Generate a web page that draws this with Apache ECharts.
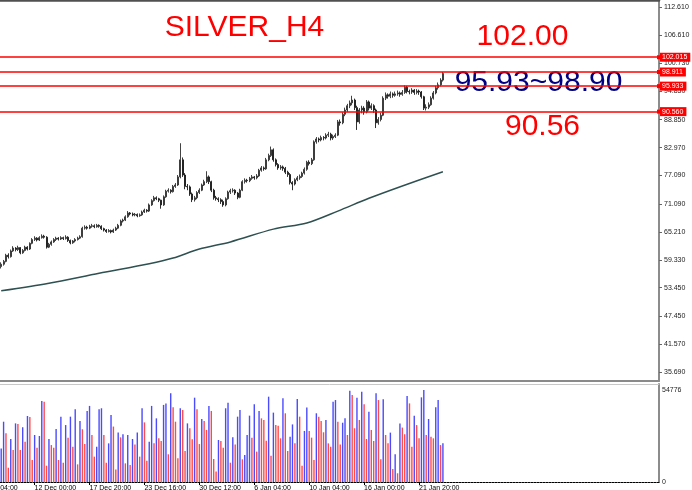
<!DOCTYPE html>
<html>
<head>
<meta charset="utf-8">
<script src="https://cdn.jsdelivr.net/npm/echarts@6/dist/echarts.min.js"></script>
<style>
html,body{margin:0;padding:0;background:#fff;}
#chart{width:692px;height:490px;}
</style>
</head>
<body>
<div id="chart"></div>
<script>
// ---- data ----
const slotCount = 276; // chart width in bar slots (includes the empty shift area on the right)
const categories = Array.from({length: slotCount}, (_, i) => String(i));

const opens = [57.9,58.4,59.0,60.3,60.0,61.2,61.8,61.5,61.9,60.8,
61.3,62.0,61.6,62.8,63.6,63.9,63.5,64.0,64.3,64.1,
62.0,62.6,63.1,63.6,63.9,63.7,64.0,63.8,64.1,63.4,
62.9,63.3,63.6,63.9,64.2,66.0,66.2,66.0,66.4,66.5,
66.3,66.6,66.4,65.9,65.6,65.3,65.5,65.2,65.6,66.0,
66.6,67.5,67.7,68.4,69.2,69.0,68.8,68.9,68.6,68.8,
69.4,69.8,69.6,70.9,71.8,72.4,72.2,71.9,70.9,72.6,
73.8,74.0,73.7,74.8,75.1,76.8,80.4,77.2,74.8,74.7,
73.2,72.0,72.4,73.5,74.0,75.1,75.8,76.8,75.8,74.0,
72.4,72.2,72.0,71.6,70.9,72.2,73.6,73.9,74.0,73.4,
72.5,74.0,75.8,76.1,76.0,76.5,76.8,76.6,77.0,78.2,
78.7,78.5,80.4,81.3,82.5,80.4,79.4,78.7,78.9,78.6,
77.8,77.3,75.6,75.3,76.2,76.6,76.9,77.6,78.4,79.9,
79.6,80.4,84.2,84.8,84.6,85.1,85.0,85.6,85.8,85.0,
85.3,85.6,88.4,88.2,90.0,90.9,91.8,92.4,93.0,91.4,
88.4,90.9,91.3,90.5,92.6,91.3,91.8,90.9,88.2,88.9,
89.8,93.4,94.1,93.8,94.3,94.0,94.3,94.5,94.2,94.6,
95.7,94.8,94.7,95.1,94.6,94.9,94.7,93.7,91.3,91.5,
92.0,93.4,94.5,95.6,96.2,97.2];

const closes = [58.4,59.0,60.3,60.0,61.2,61.8,61.5,61.9,60.8,61.3,
62.0,61.6,62.8,63.6,63.9,63.5,64.0,64.3,64.1,62.0,
62.6,63.1,63.6,63.9,63.7,64.0,63.8,64.1,63.4,62.9,
63.3,63.6,63.9,64.2,66.0,66.2,66.0,66.4,66.5,66.3,
66.6,66.4,65.9,65.6,65.3,65.5,65.2,65.6,66.0,66.6,
67.5,67.7,68.4,69.2,69.0,68.8,68.9,68.6,68.8,69.4,
69.8,69.6,70.9,71.8,72.4,72.2,71.9,70.9,72.6,73.8,
74.0,73.7,74.8,75.1,76.8,80.4,77.2,74.8,74.7,73.2,
72.0,72.4,73.5,74.0,75.1,75.8,76.8,75.8,74.0,72.4,
72.2,72.0,71.6,70.9,72.2,73.6,73.9,74.0,73.4,72.5,
74.0,75.8,76.1,76.0,76.5,76.8,76.6,77.0,78.2,78.7,
78.5,80.4,81.3,82.5,80.4,79.4,78.7,78.9,78.6,77.8,
77.3,75.6,75.3,76.2,76.6,76.9,77.6,78.4,79.9,79.6,
80.4,84.2,84.8,84.6,85.1,85.0,85.6,85.8,85.0,85.3,
85.6,88.4,88.2,90.0,90.9,91.8,92.4,93.0,91.4,88.4,
90.9,91.3,90.5,92.6,91.3,91.8,90.9,88.2,88.9,89.8,
93.4,94.1,93.8,94.3,94.0,94.3,94.5,94.2,94.6,95.7,
94.8,94.7,95.1,94.6,94.9,94.7,93.7,91.3,91.5,92.0,
93.4,94.5,95.6,96.2,97.2,98.6];

const lows = [57.5,58.1,58.8,59.6,59.8,61.0,61.1,61.2,60.5,60.6,
61.1,61.3,61.4,62.6,63.3,63.2,63.3,63.8,63.8,61.7,
61.8,62.3,62.9,63.3,63.4,63.5,63.5,63.6,63.1,62.6,
62.7,63.0,63.4,63.7,64.0,65.7,65.7,65.8,66.1,66.0,
66.1,66.1,65.6,65.3,65.0,65.1,64.9,65.0,65.4,65.8,
66.4,67.2,67.5,68.2,68.7,68.5,68.5,68.3,68.4,68.6,
69.2,69.3,69.4,70.7,71.6,71.9,71.5,70.1,70.7,72.4,
73.5,73.3,73.5,74.5,74.9,76.5,76.8,74.2,74.0,72.8,
71.5,71.6,72.1,73.2,73.8,74.9,75.5,75.3,73.6,72.0,
71.8,71.5,71.1,70.5,70.6,72.0,73.2,73.5,73.0,72.1,
72.3,73.8,75.4,75.6,75.7,76.2,76.2,76.3,76.8,77.9,
78.1,78.3,80.1,81.0,80.0,79.0,78.3,78.3,78.1,77.4,
76.8,75.2,74.0,75.0,75.9,76.2,76.6,77.3,78.1,79.2,
79.3,80.2,83.8,84.1,84.3,84.5,84.7,85.2,84.5,84.6,
85.0,85.4,87.6,87.9,89.6,90.5,91.3,91.9,90.9,86.7,
88.0,90.2,89.9,90.2,90.8,90.9,90.3,87.1,87.8,88.5,
89.6,93.0,93.3,93.4,93.5,93.7,93.9,93.7,93.9,94.3,
94.4,94.2,94.3,94.1,94.2,94.1,93.3,90.9,90.8,91.1,
91.8,93.1,94.2,95.2,95.9,96.9];

const highs = [58.8,59.3,60.6,60.7,61.5,62.2,62.0,62.3,62.0,61.6,
62.3,62.2,63.0,63.9,64.3,64.1,64.3,64.7,64.6,64.3,
62.9,63.4,63.9,64.2,64.1,64.3,64.2,64.5,64.3,63.6,
63.5,63.9,64.2,64.5,66.3,66.6,66.5,66.7,66.9,66.8,
66.9,66.8,66.6,66.1,65.8,65.8,65.7,65.9,66.3,66.9,
67.8,68.0,68.7,69.6,69.4,69.3,69.2,69.1,69.1,69.7,
70.1,70.0,71.2,72.1,72.8,72.7,72.4,72.0,72.9,74.1,
74.4,74.2,75.1,75.5,77.2,83.9,80.9,77.6,75.3,75.0,
73.5,72.8,73.8,74.4,75.4,76.2,78.0,77.1,76.0,74.3,
72.8,72.5,72.3,72.0,72.5,73.9,74.3,74.4,74.2,73.6,
74.3,76.1,76.5,76.4,76.8,77.2,77.0,77.4,78.5,79.1,
79.0,80.8,81.7,83.2,82.8,80.7,79.7,79.3,79.2,78.9,
78.1,77.6,75.9,76.5,77.0,77.3,77.9,78.8,80.2,80.3,
80.8,84.5,85.2,85.1,85.5,85.4,86.0,86.3,86.1,85.7,
86.0,88.8,88.9,90.4,91.4,92.2,92.9,93.9,93.3,91.8,
91.3,91.8,91.7,93.0,92.9,92.3,92.1,91.2,89.4,90.3,
93.8,94.6,94.4,94.8,94.6,94.8,95.0,94.8,95.1,96.1,
96.0,95.2,95.5,95.3,95.3,95.2,94.9,93.9,92.1,92.5,
93.8,94.9,96.0,96.7,97.6,98.9];

const volumes = [20000,35900,29000,8500,25600,19100,34900,34500,19100,32600,
24000,39300,38700,13100,28000,20400,27400,48200,47800,9700,
25600,22000,20400,31600,13100,38900,11500,33900,26400,38900,
21000,43300,10500,36300,31400,22600,42300,45300,28000,15100,
21000,43300,43900,28000,11500,23000,39900,33000,7500,29400,
26600,28400,11100,28000,10100,25600,22400,29400,15100,43900,
35500,12700,24000,45300,23000,37900,26000,24400,45900,46800,
16500,52800,44500,35900,14100,43900,42900,18500,34900,32000,
25400,50200,43300,22600,37500,36300,31000,45300,42300,13700,
6200,25000,
24400,20400,43900,47200,11500,26600,22400,38900,42900,13500,
16100,28000,39500,26400,46300,18100,42300,37900,36900,24600,
50800,15700,41300,33900,33500,26000,49800,40900,18500,27000,
34300,23000,49400,38900,9700,30400,44300,30400,26400,13100,
40900,38900,36300,29600,36900,23000,21000,47800,48800,35900,
22400,35300,37900,28000,54300,51800,32000,50200,36900,53800,
46300,25600,41900,31000,24400,52800,48800,13500,49200,28000,
23000,29400,7700,16500,5200,34900,32400,28400,51200,46800,
21000,39500,33900,26000,50400,54776,28000,37500,27000,26000,
44500,48800,22000,23000];

// moving average read at sample bars: [bar index, value]
const maPoints = [[0,52.8],[20,54.4],[41,56.5],[62,58.5],[72,59.7],[83,61.6],[96,63.1],
  [114,65.8],[128,67.1],[141,69.6],[154,72.3],[168,74.9],[185,77.9]];

const levels = [102.015, 98.911, 95.933, 90.560];
const priceTicks = [112.61,106.61,100.73,94.85,88.85,82.97,77.09,71.09,65.21,59.33,53.45,47.45,41.57,35.69];
const volumeTicks = [0, 54776];
const timeTickIndex = [14,37,60,83,106,129,152,175];
const timeTickLabels = ['12 Dec 00:00','17 Dec 20:00','23 Dec 16:00','30 Dec 12:00','6 Jan 04:00','10 Jan 04:00','16 Jan 00:00','21 Jan 20:00'];
const offChartLabel = '8 Dec 04:00';

// ---- build ----
const FONT = 'Liberation Sans';
const candleData = opens.map((o, i) => [o, closes[i], lows[i], highs[i]]);
const volData = volumes.map((v, i) => ({
  value: v,
  itemStyle: { color: (i === 0 || v > volumes[i - 1]) ? '#4a4aff' : '#ff4a4a' }
}));
const showTime = (idx) => timeTickIndex.indexOf(idx) >= 0;

const chart = echarts.init(document.getElementById('chart'), null, {renderer: 'canvas'});
chart.setOption({
  animation: false,
  backgroundColor: '#ffffff',
  textStyle: { fontFamily: FONT },
  grid: [
    { left: 0, top: 0, width: 659, height: 381, containLabel: false, outerBoundsMode: 'none' },
    { left: 0, top: 384, width: 659, height: 98, containLabel: false, outerBoundsMode: 'none' }
  ],
  xAxis: [
    { type: 'category', gridIndex: 0, data: categories, position: 'top', boundaryGap: true,
      axisLine: { show: true, lineStyle: { color: '#505050', width: 2.5 } },
      axisTick: { show: false }, axisLabel: { show: false }, splitLine: { show: false } },
    { type: 'category', gridIndex: 1, data: categories, position: 'bottom', boundaryGap: true,
      axisLine: { show: true, lineStyle: { color: '#000', width: 1, type: [2, 1] } },
      axisTick: { show: true, alignWithLabel: true, length: 3, interval: (i) => showTime(i), lineStyle: { color: '#000' } },
      axisLabel: { show: true, interval: (i) => showTime(i), formatter: (v, i) => {
          const k = timeTickIndex.indexOf(Number(v)); return k >= 0 ? timeTickLabels[k] : ''; },
        align: 'left', fontSize: 7, color: '#000', margin: 3, fontFamily: FONT },
      splitLine: { show: false } },
    { type: 'category', gridIndex: 0, data: categories, position: 'bottom', boundaryGap: true,
      axisLine: { show: true, lineStyle: { color: '#8a8a8a', width: 2 } },
      axisTick: { show: false }, axisLabel: { show: false }, splitLine: { show: false } },
    { type: 'category', gridIndex: 1, data: categories, position: 'top', boundaryGap: true,
      axisLine: { show: true, lineStyle: { color: '#c8c8c8', width: 1 } },
      axisTick: { show: false }, axisLabel: { show: false }, splitLine: { show: false } }
  ],
  yAxis: [
    { type: 'value', gridIndex: 0, position: 'right', min: 33.79, max: 114.085,
      axisLine: { show: true, lineStyle: { color: '#8c8c8c', width: 2 } },
      axisTick: { show: true, customValues: priceTicks, length: 3, inside: false, lineStyle: { color: '#666' } },
      axisLabel: { show: true, customValues: priceTicks, formatter: (v) => Number(v).toFixed(3),
        fontSize: 7, color: '#222', margin: 5, fontFamily: FONT },
      splitLine: { show: false } },
    { type: 'value', gridIndex: 1, position: 'right', min: 0, max: 58348,
      axisLine: { show: true, lineStyle: { color: '#8c8c8c', width: 2 } },
      axisTick: { show: false },
      axisLabel: { show: true, customValues: volumeTicks, formatter: (v) => String(Math.round(v)),
        fontSize: 7, color: '#222', margin: 3, fontFamily: FONT },
      splitLine: { show: false } }
  ],
  series: [
    { type: 'candlestick', xAxisIndex: 0, yAxisIndex: 0, data: candleData, barWidth: 1.5,
      itemStyle: { color: '#8c8c8c', color0: '#1a1a1a', borderColor: '#2e2e2e', borderColor0: '#1a1a1a', borderWidth: 0.9 },
      markLine: {
        silent: true, symbol: ['none', 'rect'], symbolSize: [4, 4],
        lineStyle: { color: '#ff0000', width: 1.5, type: 'solid' },
        label: { show: true, position: 'end', distance: 1,
          formatter: (p) => levels[p.dataIndex].toFixed(3),
          color: '#fff', backgroundColor: '#ff0000', fontSize: 7, fontFamily: FONT, padding: [1, 3, 0, 2], lineHeight: 8 },
        data: levels.map(v => ({ yAxis: v }))
      } },
    { type: 'line', xAxisIndex: 0, yAxisIndex: 0, data: maPoints, showSymbol: false, smooth: 0.3,
      lineStyle: { color: '#2f5050', width: 1.5 }, z: 1 },
    { type: 'bar', xAxisIndex: 1, yAxisIndex: 1, data: volData, barWidth: 1.4 }
  ],
  graphic: [
    { type: 'text', x: 244.5, y: 27.5, style: { text: 'SILVER_H4', fill: '#ff0000', fontSize: 30, fontFamily: FONT, align: 'center', verticalAlign: 'middle' } },
    { type: 'text', x: 522.5, y: 37, style: { text: '102.00', fill: '#ff0000', fontSize: 30, fontFamily: FONT, align: 'center', verticalAlign: 'middle' } },
    { type: 'text', x: 538.5, y: 82.5, style: { text: '95.93~98.90', fill: '#000080', fontSize: 30, fontFamily: FONT, align: 'center', verticalAlign: 'middle' } },
    { type: 'text', x: 542.5, y: 126.5, style: { text: '90.56', fill: '#ff0000', fontSize: 30, fontFamily: FONT, align: 'center', verticalAlign: 'middle' } },
    { type: 'text', x: -20, y: 485, style: { text: offChartLabel, fill: '#000', fontSize: 7, fontFamily: FONT, align: 'left', verticalAlign: 'top' } }
  ]
});
</script>
</body>
</html>
